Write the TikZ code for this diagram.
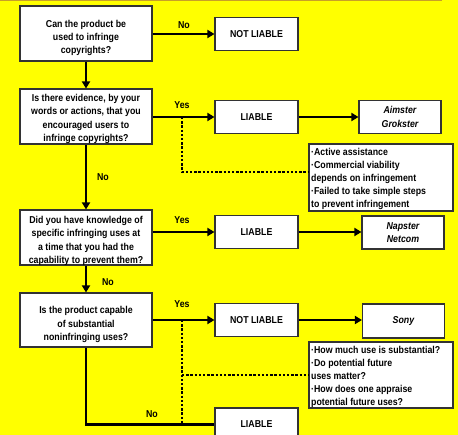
\documentclass[tikz,border=0pt]{standalone}
\usepackage{fontspec}
\setmainfont{Liberation Sans}[FakeStretch=0.88]
\usetikzlibrary{arrows.meta}
\definecolor{bg}{RGB}{255,255,0}
\begin{document}
\begin{tikzpicture}[x=1pt,y=-1pt,
  every node/.style={font=\bfseries\fontsize{10}{13.3}\selectfont},
  box/.style={draw=black!80, line width=1.1pt, fill=white, inner sep=1pt, align=center},
  qbox/.style={box, minimum width=132pt, minimum height=55pt},
  qtext/.style={inner sep=0pt, align=center},
  rbox/.style={box, minimum width=83pt, minimum height=33pt},
  cbox/.style={box, minimum width=82pt, minimum height=33pt, font=\bfseries\itshape\fontsize{10}{13.2}\selectfont},
  nbox/.style={box, minimum width=144pt, minimum height=67pt},
  ntext/.style={inner sep=0pt, align=left, anchor=north west, font=\bfseries\fontsize{10}{13}\selectfont},
  arr/.style={line width=2.6pt, -{Triangle[length=7pt,width=8pt]}},
  ln/.style={line width=2.6pt},
  dot/.style={line width=2.6pt, dash pattern=on 2.4pt off 1.8pt},
  lab/.style={inner sep=0pt}]
\fill[bg] (0,0) rectangle (458,435);
\useasboundingbox (0,0) rectangle (458,435);
\draw[color={rgb,255:red,200;green,160;blue,40}, line width=1pt] (0,0.5) -- (442,0.5);

\node[qbox] (q1) at (86,33.5) {};
\node[qtext] (q1t) at ([yshift=-4.5pt]q1.center) {Can the product be\\used to infringe\\copyrights?};
\node[qbox] (q2) at (86,116.5) {};
\node[qtext] (q2t) at ([yshift=-2.5pt]q2.center) {Is there evidence, by your\\words or actions, that you\\encouraged users to\\infringe copyrights?};
\node[qbox] (q3) at (86,237.5) {};
\node[qtext] (q3t) at ([yshift=-3.5pt]q3.center) {Did you have knowledge of\\specific infringing uses at\\a time that you had the\\capability to prevent them?};
\node[qbox, minimum height=54pt] (q4) at (86,320) {};
\node[qtext] (q4t) at ([yshift=-4.5pt]q4.center) {Is the product capable\\of substantial\\noninfringing uses?};

\node[rbox] (r1) at (256.5,34) {NOT LIABLE};
\node[rbox] (r2) at (256.5,117) {LIABLE};
\node[rbox] (r3) at (256.5,232) {LIABLE};
\node[rbox] (r4) at (256.5,320) {NOT LIABLE};
\node[rbox] (r5) at (256.5,424.5) {LIABLE};

\node[cbox] (c1) at (400,117) {Aimster\\Grokster};
\node[cbox] (c2) at (403,232.5) {Napster\\Netcom};
\node[cbox, minimum height=34pt] (c3) at (403.5,321) {Sony};

\node[nbox] (n1) at (381,177.5) {};
\node[ntext] (n1t) at ([shift={(2.5pt,-5pt)}]n1.north west) {·Active assistance\\·Commercial viability\\depends on infringement\\·Failed to take simple steps\\to prevent infringement};
\node[nbox, minimum height=66pt] (n2) at (381,375) {};
\node[ntext] (n2t) at ([shift={(2.5pt,-5pt)}]n2.north west) {·How much use is substantial?\\·Do potential future\\uses matter?\\·How does one appraise\\potential future uses?};

\draw[arr] (q1.east |- r1) -- (r1.west);
\draw[arr] (q1.south) -- (q2.north);
\draw[arr] (q2.east |- r2) -- (r2.west);
\draw[arr] (r2.east) -- (c1.west |- r2);
\draw[arr] (q2.south) -- (q3.north);
\draw[arr] (q3.east |- r3) -- (r3.west);
\draw[arr] (r3.east) -- (c2.west |- r3);
\draw[arr] (q3.south) -- (q4.north);
\draw[arr] (q4.east |- r4) -- (r4.west);
\draw[arr] (r4.east) -- (c3.west |- r4);
\draw[ln] (q4.south) |- (r5.west);

\coordinate (d1) at (182,117);
\coordinate (d1b) at (182,172);
\draw[dot] (d1) -- (d1b) -- (n1.west |- d1b);
\coordinate (d2) at (182,320);
\coordinate (d2b) at (182,423);
\coordinate (d2m) at (182,375);
\draw[dot] (d2) -- (d2b);
\draw[dot] (d2m) -- (n2.west |- d2m);

\node[lab] at (184,25.5) {No};
\node[lab] at (182,105.5) {Yes};
\node[lab] at (103,177) {No};
\node[lab] at (182,220.5) {Yes};
\node[lab] at (108,282) {No};
\node[lab] at (182,304) {Yes};
\node[lab] at (152,414) {No};
\end{tikzpicture}
\end{document}
